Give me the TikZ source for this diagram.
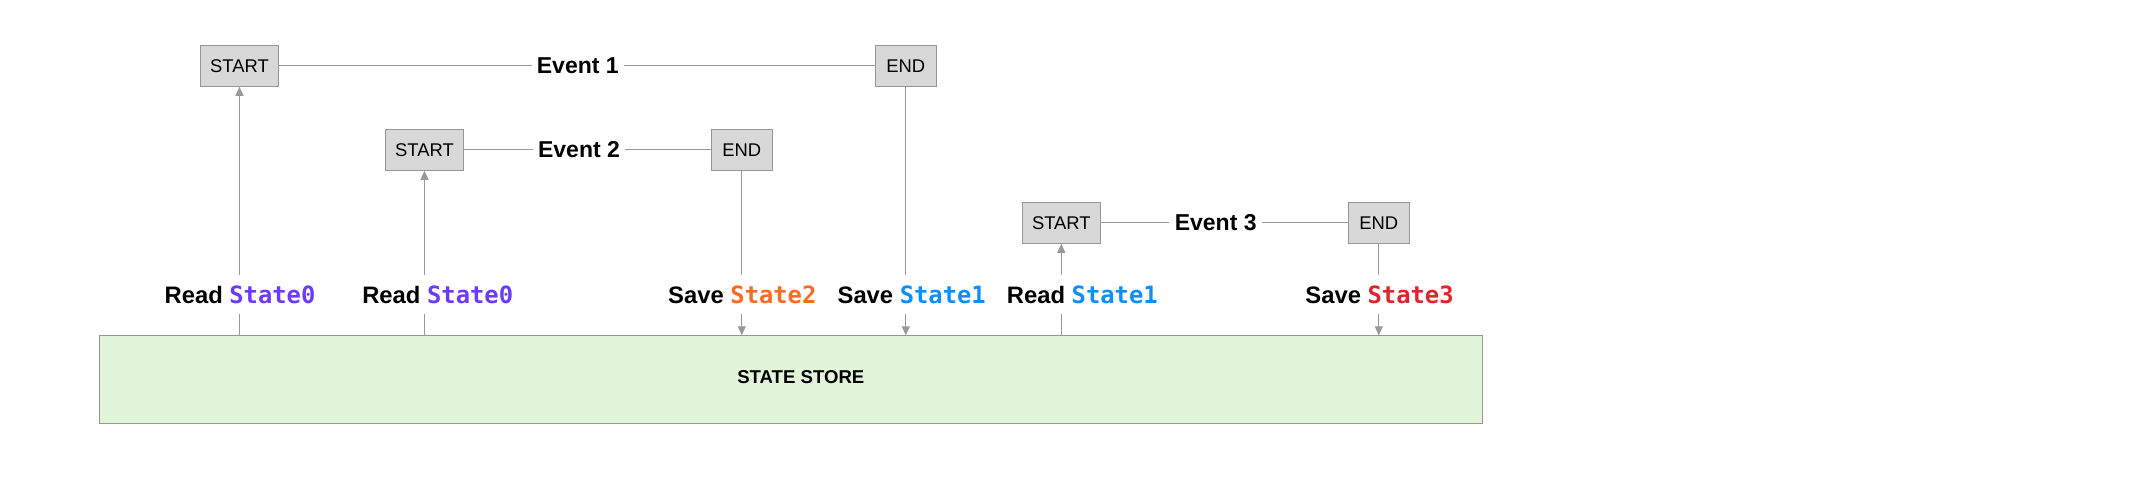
\documentclass[tikz,border=0pt]{standalone}
\usepackage{fontspec}
\setmainfont{Liberation Sans}
\newfontfamily\monof{DejaVu Sans Mono}
\usetikzlibrary{arrows.meta}
\definecolor{linegray}{RGB}{153,153,153}
\definecolor{boxfill}{RGB}{216,216,216}
\definecolor{boxline}{RGB}{150,150,150}
\definecolor{storefill}{RGB}{225,245,216}
\definecolor{stpurple}{RGB}{108,58,255}
\definecolor{storange}{RGB}{255,106,32}
\definecolor{stblue}{RGB}{12,142,255}
\definecolor{stred}{RGB}{225,36,44}
\begin{document}
\begin{tikzpicture}[x=0.5pt,y=-0.5pt,
  evbox/.style={draw=boxline, fill=boxfill, line width=0.5pt, inner sep=0pt,
    minimum height=20.5pt, font=\fontsize{9.2}{11}\selectfont},
  startbox/.style={evbox, minimum width=39.2pt},
  endbox/.style={evbox, minimum width=30.5pt},
  evlabel/.style={font=\fontsize{11.5}{13}\selectfont\bfseries, inner sep=2.5pt},
  oplabel/.style={font=\fontsize{11.9}{13}\selectfont\bfseries, inner sep=0pt, minimum height=19.3pt},
  conn/.style={draw=linegray, line width=0.5pt},
  arr/.style={conn, -{Triangle[length=4.5pt,width=4pt]}},
  storebox/.style={draw=boxline, fill=storefill, line width=0.5pt, inner sep=0pt,
    minimum width=691.5pt, minimum height=44pt, anchor=north west},
  storetext/.style={font=\fontsize{9.3}{11}\selectfont\bfseries, inner sep=0pt}
]
\useasboundingbox (0,0) rectangle (2150,488);

% state store
\node[storebox] (store) at (99.3,335.3) {};
\node[storetext] (storelbl) at (800.8,376.7) {STATE STORE};

% event 1
\node[startbox] (st1) at (239.5,65.8) {START};
\node[endbox] (en1) at (905.8,65.8) {END};
\node[evlabel] (ev1) at (577.8,65.8) {Event 1};
% event 2
\node[startbox] (st2) at (424.5,149.8) {START};
\node[endbox] (en2) at (741.8,149.8) {END};
\node[evlabel] (ev2) at (579,149.8) {Event 2};
% event 3
\node[startbox] (st3) at (1061.3,222.8) {START};
\node[endbox] (en3) at (1378.8,222.8) {END};
\node[evlabel] (ev3) at (1215.7,222.8) {Event 3};

\draw[conn] (st1.east) -- (ev1.west);
\draw[conn] (ev1.east) -- (en1.west);
\draw[conn] (st2.east) -- (ev2.west);
\draw[conn] (ev2.east) -- (en2.west);
\draw[conn] (st3.east) -- (ev3.west);
\draw[conn] (ev3.east) -- (en3.west);

% operation labels
\node[oplabel] (l1) at (240,294.5) {Read {\monof\color{stpurple}State0}};
\node[oplabel] (l2) at (437.7,294.5) {Read {\monof\color{stpurple}State0}};
\node[oplabel] (l3) at (742.3,294.5) {Save {\monof\color{storange}State2}};
\node[oplabel] (l4) at (911.7,294.5) {Save {\monof\color{stblue}State1}};
\node[oplabel] (l5) at (1082.3,294.5) {Read {\monof\color{stblue}State1}};
\node[oplabel] (l6) at (1379.5,294.5) {Save {\monof\color{stred}State3}};

% reads
\draw[conn] (store.north -| st1.south) -- (l1.south -| st1.south);
\draw[arr] (l1.north -| st1.south) -- (st1.south);
\draw[conn] (store.north -| st2.south) -- (l2.south -| st2.south);
\draw[arr] (l2.north -| st2.south) -- (st2.south);
\draw[conn] (store.north -| st3.south) -- (l5.south -| st3.south);
\draw[arr] (l5.north -| st3.south) -- (st3.south);

% saves
\draw[conn] (en2.south) -- (l3.north -| en2.south);
\draw[arr] (l3.south -| en2.south) -- (store.north -| en2.south);
\draw[conn] (en1.south) -- (l4.north -| en1.south);
\draw[arr] (l4.south -| en1.south) -- (store.north -| en1.south);
\draw[conn] (en3.south) -- (l6.north -| en3.south);
\draw[arr] (l6.south -| en3.south) -- (store.north -| en3.south);
\end{tikzpicture}
\end{document}
